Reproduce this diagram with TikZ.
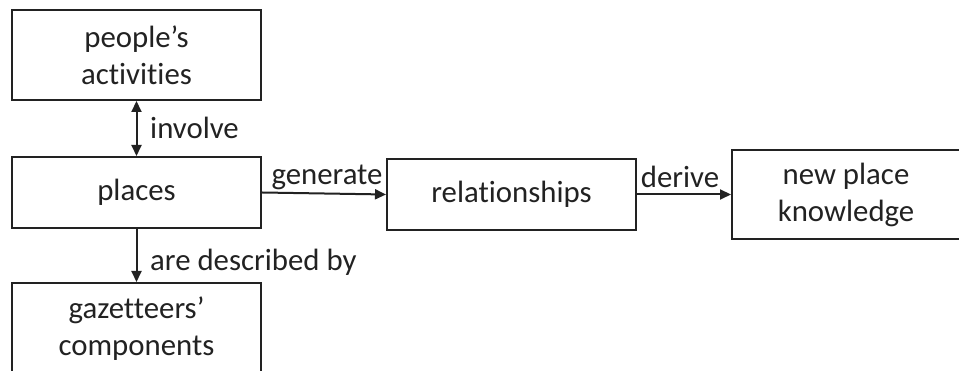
\documentclass[tikz,border=0pt]{standalone}
\usepackage{fontspec}
\setmainfont{Carlito}[Ligatures={NoCommon,NoContextual}, Contextuals=NoAlternate]
\usetikzlibrary{arrows.meta}
\definecolor{ink}{HTML}{222222}
\tikzset{
  box/.style={draw=ink, line width=2pt, fill=white, text=ink, align=center,
    inner sep=0pt, font=\fontsize{30.8}{37}\selectfont},
  lbl/.style={text=ink, inner sep=0pt, font=\fontsize{30.8}{37}\selectfont},
  conn/.style={draw=ink, line width=2pt, -{Triangle[length=11pt,width=10pt]}},
}
\begin{document}
\begin{tikzpicture}[x=1pt,y=1pt]
\useasboundingbox (0,0) rectangle (959,371);
\clip (0,0) rectangle (959,371);
\node[box, minimum width=249pt, minimum height=90pt] (act) at (136.5,316) {people’s\\activities};
\node[box, minimum width=249pt, minimum height=71pt] (pl) at (136.5,178.5) {places};
\node[box, minimum width=249pt, minimum height=92pt] (gaz) at (136.5,42) {gazetteers’\\components};
\node[box, minimum width=249pt, minimum height=71pt] (rel) at (511.5,176.5) {relationships};
\node[box, minimum width=234pt, minimum height=89pt] (npk) at (849,176.5) {};
\node[lbl, align=center] (npkt) at (846,176.5) {new place\\knowledge};
\draw[conn, {Triangle[length=11pt,width=10pt]}-{Triangle[length=11pt,width=10pt]}] (act.south) -- (pl.north);
\draw[conn] (pl.south) -- (gaz.north);
\draw[conn] (pl.east) -- (rel.west);
\draw[conn] (rel.east) -- (npk.west);
\node[lbl, anchor=west] (l1) at (150,243) {involve};
\node[lbl] (l2) at (327,194) {generate};
\node[lbl] (l3) at (680,194) {derive};
\node[lbl, anchor=west] (l4) at (150,109) {are described by};
\end{tikzpicture}
\end{document}
